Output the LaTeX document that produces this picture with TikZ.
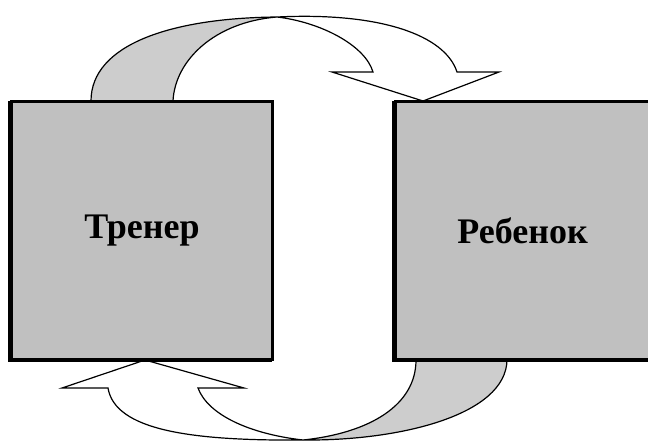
\documentclass[tikz,border=0pt]{standalone}
\usepackage{fontspec}
\setmainfont{Liberation Serif}
\definecolor{boxgray}{HTML}{C0C0C0}
\definecolor{bandgray}{HTML}{CDCDCD}
\begin{document}
\begin{tikzpicture}[x=1pt,y=-1pt,
  box/.style={draw=black, line width=3pt, fill=boxgray, minimum height=258pt,
    inner sep=0pt, font=\fontsize{36}{40}\selectfont\bfseries,
    preaction={draw=black, fill=black, transform canvas={xshift=-2pt,yshift=-1pt}}},
  arrowline/.style={draw=black, line width=1.2pt, line join=miter}]
\clip (0,0) rectangle (648,441);
\fill[white] (0,0) rectangle (648,441);
% top curved arrow (trainer -> child)
\filldraw[arrowline, fill=bandgray] (91,101) .. controls (91,45) and (170,18) .. (277,17)
  .. controls (215,22) and (175,60) .. (173,101) -- cycle;
\filldraw[arrowline, fill=white] (277,17) .. controls (380,12) and (445,35) .. (457,72)
  -- (499,72) -- (423,101) -- (332,72) -- (373,72)
  .. controls (365,45) and (320,22) .. (277,17) -- cycle;
% bottom curved arrow (child -> trainer)
\filldraw[arrowline, fill=bandgray] (416,360) .. controls (416,405) and (370,433) .. (303,440)
  .. controls (400,441) and (506,415) .. (507,360) -- cycle;
\filldraw[arrowline, fill=white] (303,440) .. controls (190,441) and (115,430) .. (108,388)
  -- (62,388) -- (145,360) -- (244,388) -- (198,388)
  .. controls (208,415) and (250,434) .. (303,440) -- cycle;
% boxes
\node[box, minimum width=261pt] (trainer) at (142,230.5) {Тренер};
\node[box, minimum width=254pt] (child) at (522.5,230.5) {Ребенок};
\end{tikzpicture}
\end{document}
